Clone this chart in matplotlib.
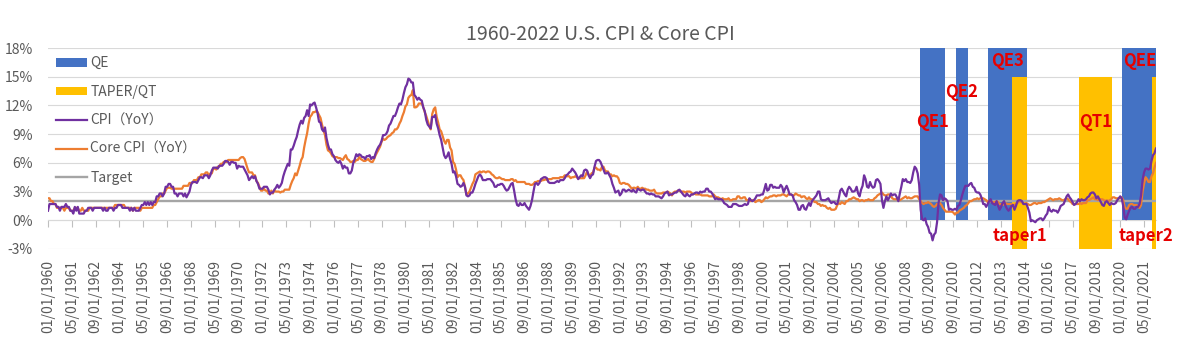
"""1960-2022 U.S. CPI & Core CPI with QE / taper periods, Excel-like look."""

import matplotlib

matplotlib.use("Agg")
import matplotlib.pyplot as plt
import numpy as np
import pandas as pd
from matplotlib.lines import Line2D
from matplotlib.patches import Patch

plt.rcParams["font.family"] = ["Noto Sans CJK SC", "DejaVu Sans"]

START_MONTH = "1960-01-01"

# CPI-U, year over year %, monthly from Jan 1960 to Jan 2022
CPI_YOY = [
    1.0, 1.7, 1.7, 1.7, 1.7, 1.7, 1.4, 1.4, 1.0, 1.4, 1.4, 1.4,  # 1960
    1.7, 1.4, 1.4, 1.0, 1.0, 0.7, 1.4, 1.0, 1.4, 0.7, 0.7, 0.7,  # 1961
    0.7, 1.0, 1.0, 1.3, 1.3, 1.3, 1.0, 1.3, 1.3, 1.3, 1.3, 1.3,  # 1962
    1.3, 1.0, 1.3, 1.0, 1.0, 1.3, 1.3, 1.3, 1.0, 1.3, 1.3, 1.6,  # 1963
    1.6, 1.6, 1.3, 1.3, 1.3, 1.3, 1.3, 1.0, 1.3, 1.0, 1.3, 1.0,  # 1964
    1.0, 1.0, 1.3, 1.6, 1.6, 1.9, 1.6, 1.9, 1.6, 1.9, 1.6, 1.9,  # 1965
    1.9, 2.5, 2.5, 2.8, 2.8, 2.5, 2.8, 3.5, 3.5, 3.8, 3.8, 3.5,  # 1966
    3.5, 2.8, 2.8, 2.5, 2.8, 2.8, 2.8, 2.5, 2.8, 2.4, 2.7, 3.0,  # 1967
    3.7, 4.0, 4.0, 4.0, 3.9, 4.2, 4.5, 4.5, 4.4, 4.7, 4.7, 4.7,  # 1968
    4.4, 4.7, 5.2, 5.5, 5.5, 5.5, 5.4, 5.7, 5.7, 5.7, 5.9, 6.2,  # 1969
    6.2, 6.1, 5.8, 6.1, 6.1, 6.0, 6.0, 5.4, 5.7, 5.6, 5.6, 5.6,  # 1970
    5.3, 5.0, 4.7, 4.2, 4.4, 4.6, 4.4, 4.6, 4.1, 3.8, 3.3, 3.3,  # 1971
    3.3, 3.5, 3.5, 3.5, 3.2, 2.7, 2.9, 2.9, 3.2, 3.4, 3.7, 3.4,  # 1972
    3.6, 3.9, 4.6, 5.1, 5.5, 5.9, 5.7, 7.4, 7.4, 7.8, 8.3, 8.7,  # 1973
    9.4, 10.0, 10.4, 10.1, 10.7, 10.9, 11.5, 10.9, 12.1, 12.0, 12.2, 12.3,  # 1974
    11.8, 11.2, 10.3, 10.2, 9.5, 9.3, 9.7, 8.6, 7.9, 7.4, 7.4, 6.9,  # 1975
    6.7, 6.3, 6.1, 6.0, 6.2, 5.9, 5.4, 5.7, 5.5, 5.5, 4.9, 4.9,  # 1976
    5.2, 6.0, 6.4, 6.9, 6.7, 6.9, 6.8, 6.6, 6.6, 6.4, 6.7, 6.7,  # 1977
    6.8, 6.4, 6.6, 6.5, 7.0, 7.4, 7.7, 7.9, 8.3, 8.9, 8.9, 9.0,  # 1978
    9.3, 9.9, 10.1, 10.5, 10.9, 10.9, 11.3, 11.8, 12.2, 12.1, 12.6, 13.3,  # 1979
    13.9, 14.2, 14.8, 14.7, 14.4, 14.4, 13.1, 12.9, 12.6, 12.8, 12.6, 12.5,  # 1980
    11.8, 11.4, 10.5, 10.0, 9.8, 9.6, 10.8, 10.8, 11.0, 10.1, 9.6, 8.9,  # 1981
    8.4, 7.6, 6.8, 6.5, 6.7, 7.1, 6.4, 5.9, 5.0, 5.1, 4.6, 3.8,  # 1982
    3.7, 3.5, 3.6, 3.9, 3.5, 2.6, 2.5, 2.6, 2.9, 2.9, 3.3, 3.8,  # 1983
    4.2, 4.6, 4.8, 4.6, 4.2, 4.2, 4.2, 4.3, 4.3, 4.3, 4.1, 3.9,  # 1984
    3.5, 3.5, 3.7, 3.7, 3.8, 3.8, 3.6, 3.3, 3.1, 3.2, 3.5, 3.8,  # 1985
    3.9, 3.1, 2.2, 1.6, 1.5, 1.8, 1.6, 1.6, 1.8, 1.5, 1.3, 1.1,  # 1986
    1.5, 2.1, 3.0, 3.8, 3.9, 3.7, 3.9, 4.3, 4.4, 4.5, 4.5, 4.4,  # 1987
    4.0, 3.9, 3.9, 3.9, 3.9, 4.0, 4.1, 4.0, 4.2, 4.2, 4.2, 4.4,  # 1988
    4.7, 4.8, 5.0, 5.1, 5.4, 5.2, 5.0, 4.7, 4.3, 4.5, 4.7, 4.6,  # 1989
    5.2, 5.3, 5.2, 4.7, 4.4, 4.7, 4.8, 5.6, 6.2, 6.3, 6.3, 6.1,  # 1990
    5.7, 5.3, 4.9, 4.9, 5.0, 4.7, 4.4, 3.8, 3.4, 2.9, 3.0, 3.1,  # 1991
    2.6, 2.8, 3.2, 3.2, 3.0, 3.1, 3.2, 3.1, 3.0, 3.2, 3.0, 2.9,  # 1992
    3.3, 3.2, 3.1, 3.2, 3.2, 3.0, 2.8, 2.8, 2.7, 2.8, 2.7, 2.7,  # 1993
    2.5, 2.5, 2.5, 2.4, 2.3, 2.5, 2.8, 2.9, 3.0, 2.6, 2.7, 2.7,  # 1994
    2.8, 2.9, 2.9, 3.1, 3.2, 3.0, 2.8, 2.6, 2.5, 2.8, 2.6, 2.5,  # 1995
    2.7, 2.7, 2.8, 2.9, 2.9, 2.8, 3.0, 2.9, 3.0, 3.0, 3.3, 3.3,  # 1996
    3.0, 3.0, 2.8, 2.5, 2.2, 2.3, 2.2, 2.2, 2.2, 2.1, 1.8, 1.7,  # 1997
    1.6, 1.4, 1.4, 1.4, 1.7, 1.7, 1.7, 1.6, 1.5, 1.5, 1.5, 1.6,  # 1998
    1.7, 1.6, 1.7, 2.3, 2.1, 2.0, 2.1, 2.3, 2.6, 2.6, 2.6, 2.7,  # 1999
    2.7, 3.2, 3.8, 3.1, 3.2, 3.7, 3.7, 3.4, 3.5, 3.4, 3.4, 3.4,  # 2000
    3.7, 3.5, 2.9, 3.3, 3.6, 3.2, 2.7, 2.7, 2.6, 2.1, 1.9, 1.6,  # 2001
    1.1, 1.1, 1.5, 1.6, 1.2, 1.1, 1.5, 1.8, 1.5, 2.0, 2.2, 2.4,  # 2002
    2.6, 3.0, 3.0, 2.2, 2.1, 2.1, 2.1, 2.2, 2.3, 2.0, 1.8, 1.9,  # 2003
    1.9, 1.7, 1.7, 2.3, 3.1, 3.3, 3.0, 2.7, 2.5, 3.2, 3.5, 3.3,  # 2004
    3.0, 3.0, 3.1, 3.5, 2.8, 2.5, 3.2, 3.6, 4.7, 4.3, 3.5, 3.4,  # 2005
    4.0, 3.6, 3.4, 3.5, 4.2, 4.3, 4.1, 3.8, 2.1, 1.3, 2.0, 2.5,  # 2006
    2.1, 2.4, 2.8, 2.6, 2.7, 2.7, 2.4, 2.0, 2.8, 3.5, 4.3, 4.1,  # 2007
    4.3, 4.0, 4.0, 3.9, 4.2, 5.0, 5.6, 5.4, 4.9, 3.7, 1.1, 0.1,  # 2008
    0.0, 0.2, -0.4, -0.7, -1.3, -1.4, -2.1, -1.5, -1.3, -0.2, 1.8, 2.7,  # 2009
    2.6, 2.1, 2.3, 2.2, 2.0, 1.1, 1.2, 1.1, 1.1, 1.2, 1.1, 1.5,  # 2010
    1.6, 2.1, 2.7, 3.2, 3.6, 3.6, 3.6, 3.8, 3.9, 3.5, 3.4, 3.0,  # 2011
    2.9, 2.9, 2.7, 2.3, 1.7, 1.7, 1.4, 1.7, 2.0, 2.2, 1.8, 1.7,  # 2012
    1.6, 2.0, 1.5, 1.1, 1.4, 1.8, 2.0, 1.5, 1.2, 1.0, 1.2, 1.5,  # 2013
    1.6, 1.1, 1.5, 2.0, 2.1, 2.1, 2.0, 1.7, 1.7, 1.7, 1.3, 0.8,  # 2014
    -0.1, 0.0, -0.1, -0.2, 0.0, 0.1, 0.2, 0.2, 0.0, 0.2, 0.5, 0.7,  # 2015
    1.4, 1.0, 0.9, 1.1, 1.0, 1.0, 0.8, 1.1, 1.5, 1.6, 1.7, 2.1,  # 2016
    2.5, 2.7, 2.4, 2.2, 1.9, 1.6, 1.7, 1.9, 2.2, 2.0, 2.2, 2.1,  # 2017
    2.1, 2.2, 2.4, 2.5, 2.8, 2.9, 2.9, 2.7, 2.3, 2.5, 2.2, 1.9,  # 2018
    1.6, 1.5, 1.9, 2.0, 1.8, 1.6, 1.8, 1.7, 1.7, 1.8, 2.1, 2.3,  # 2019
    2.5, 2.3, 1.5, 0.3, 0.1, 0.6, 1.0, 1.3, 1.4, 1.2, 1.2, 1.4,  # 2020
    1.4, 1.7, 2.6, 4.2, 5.0, 5.4, 5.4, 5.3, 5.4, 6.2, 6.8, 7.0,  # 2021
    7.5,  # 2022
]

# Core CPI (ex food & energy), year over year %, same months
CORE_CPI_YOY = [
    2.3, 2.3, 2.0, 2.0, 1.7, 1.7, 1.3, 1.3, 1.3, 1.3, 1.3, 1.0,  # 1960
    1.3, 1.3, 1.3, 1.0, 1.0, 1.0, 1.3, 1.3, 1.3, 1.0, 1.0, 1.3,  # 1961
    1.0, 1.0, 1.0, 1.0, 1.3, 1.3, 1.3, 1.3, 1.3, 1.3, 1.3, 1.3,  # 1962
    1.3, 1.3, 1.3, 1.3, 1.3, 1.3, 1.3, 1.3, 1.3, 1.6, 1.6, 1.6,  # 1963
    1.6, 1.6, 1.6, 1.6, 1.3, 1.3, 1.3, 1.3, 1.3, 1.0, 1.3, 1.3,  # 1964
    1.3, 1.3, 1.0, 1.3, 1.3, 1.3, 1.3, 1.3, 1.3, 1.3, 1.3, 1.6,  # 1965
    1.6, 1.9, 2.2, 2.5, 2.5, 2.8, 2.8, 3.1, 3.4, 3.4, 3.4, 3.3,  # 1966
    3.3, 3.3, 3.3, 3.3, 3.3, 3.3, 3.3, 3.6, 3.6, 3.6, 3.6, 3.9,  # 1967
    3.9, 3.9, 4.2, 4.2, 4.2, 4.5, 4.5, 4.8, 4.8, 4.8, 5.0, 5.0,  # 1968
    4.6, 4.9, 4.9, 5.4, 5.4, 5.3, 5.6, 5.6, 5.9, 5.9, 6.1, 6.1,  # 1969
    6.1, 6.3, 6.3, 6.3, 6.3, 6.3, 6.3, 6.3, 6.3, 6.5, 6.6, 6.6,  # 1970
    6.4, 5.9, 5.4, 5.0, 5.0, 5.0, 4.7, 4.7, 4.1, 3.9, 3.5, 3.1,  # 1971
    3.1, 3.3, 3.1, 3.1, 2.8, 2.8, 3.1, 2.8, 3.1, 3.0, 3.0, 3.0,  # 1972
    2.9, 3.0, 3.0, 3.2, 3.2, 3.2, 3.2, 3.7, 4.1, 4.4, 4.9, 4.7,  # 1973
    5.2, 5.7, 6.3, 6.6, 7.6, 8.4, 9.1, 10.1, 10.8, 11.0, 11.3, 11.3,  # 1974
    11.4, 11.3, 11.0, 10.7, 10.0, 9.4, 8.9, 7.9, 7.3, 7.2, 7.0, 6.7,  # 1975
    6.6, 6.6, 6.6, 6.5, 6.5, 6.4, 6.3, 6.6, 6.8, 6.4, 6.3, 6.1,  # 1976
    6.1, 6.2, 6.1, 6.3, 6.3, 6.6, 6.4, 6.3, 6.2, 6.2, 6.3, 6.4,  # 1977
    6.2, 6.1, 6.1, 6.4, 6.8, 7.1, 7.4, 7.7, 8.2, 8.5, 8.4, 8.5,  # 1978
    8.7, 8.8, 8.9, 9.1, 9.2, 9.5, 9.5, 9.7, 10.1, 10.4, 10.9, 11.3,  # 1979
    11.9, 12.1, 12.8, 13.0, 13.1, 13.6, 11.8, 11.8, 11.9, 12.2, 12.2, 12.2,  # 1980
    11.8, 11.3, 10.9, 10.4, 9.9, 9.5, 11.1, 11.6, 11.8, 10.8, 10.2, 9.5,  # 1981
    9.3, 8.8, 8.3, 8.0, 8.4, 8.4, 7.6, 7.3, 6.1, 5.9, 5.3, 4.5,  # 1982
    4.7, 4.7, 4.4, 4.2, 3.5, 2.7, 2.8, 3.0, 3.4, 3.8, 4.1, 4.8,  # 1983
    4.9, 5.0, 5.1, 5.0, 5.1, 5.1, 5.0, 5.1, 5.1, 5.0, 4.8, 4.7,  # 1984
    4.5, 4.4, 4.4, 4.5, 4.4, 4.3, 4.3, 4.2, 4.2, 4.2, 4.2, 4.3,  # 1985
    4.3, 4.1, 4.2, 4.0, 4.0, 4.0, 4.0, 4.0, 4.0, 3.8, 3.8, 3.8,  # 1986
    3.7, 3.7, 3.8, 4.0, 4.0, 4.1, 4.1, 4.1, 4.2, 4.2, 4.3, 4.2,  # 1987
    4.3, 4.3, 4.3, 4.4, 4.4, 4.4, 4.4, 4.4, 4.5, 4.5, 4.5, 4.7,  # 1988
    4.6, 4.6, 4.6, 4.4, 4.5, 4.5, 4.6, 4.5, 4.4, 4.4, 4.4, 4.4,  # 1989
    4.4, 4.7, 5.1, 4.8, 4.6, 4.9, 5.0, 5.5, 5.5, 5.3, 5.3, 5.2,  # 1990
    5.6, 5.6, 5.2, 5.1, 5.1, 4.8, 4.8, 4.6, 4.7, 4.6, 4.6, 4.4,  # 1991
    3.9, 3.8, 3.9, 3.9, 3.8, 3.8, 3.7, 3.5, 3.3, 3.4, 3.4, 3.3,  # 1992
    3.5, 3.3, 3.3, 3.4, 3.3, 3.3, 3.2, 3.2, 3.1, 3.1, 3.1, 3.2,  # 1993
    2.9, 2.8, 2.8, 2.8, 2.8, 2.9, 2.9, 2.9, 3.0, 2.9, 2.8, 2.6,  # 1994
    2.9, 3.0, 3.0, 3.1, 3.1, 3.0, 3.0, 3.0, 2.9, 3.0, 3.0, 3.0,  # 1995
    2.9, 2.7, 2.8, 2.7, 2.7, 2.7, 2.7, 2.6, 2.6, 2.6, 2.6, 2.6,  # 1996
    2.5, 2.5, 2.5, 2.7, 2.5, 2.4, 2.4, 2.3, 2.2, 2.3, 2.2, 2.2,  # 1997
    2.2, 2.3, 2.1, 2.1, 2.2, 2.2, 2.2, 2.5, 2.5, 2.3, 2.3, 2.4,  # 1998
    2.4, 2.1, 2.1, 2.2, 2.0, 2.1, 2.1, 1.9, 2.0, 2.1, 2.1, 1.9,  # 1999
    2.0, 2.2, 2.4, 2.3, 2.4, 2.5, 2.5, 2.6, 2.6, 2.5, 2.6, 2.6,  # 2000
    2.6, 2.7, 2.7, 2.6, 2.5, 2.7, 2.7, 2.7, 2.6, 2.6, 2.8, 2.7,  # 2001
    2.6, 2.6, 2.4, 2.5, 2.5, 2.3, 2.2, 2.4, 2.2, 2.2, 2.0, 1.9,  # 2002
    1.9, 1.7, 1.7, 1.5, 1.6, 1.5, 1.5, 1.3, 1.2, 1.3, 1.1, 1.1,  # 2003
    1.1, 1.2, 1.6, 1.8, 1.7, 1.9, 1.8, 1.7, 2.0, 2.0, 2.2, 2.2,  # 2004
    2.3, 2.4, 2.3, 2.2, 2.2, 2.0, 2.1, 2.1, 2.0, 2.1, 2.1, 2.2,  # 2005
    2.1, 2.1, 2.1, 2.3, 2.4, 2.6, 2.7, 2.8, 2.9, 2.7, 2.6, 2.6,  # 2006
    2.7, 2.7, 2.5, 2.3, 2.2, 2.2, 2.2, 2.1, 2.1, 2.2, 2.3, 2.4,  # 2007
    2.5, 2.3, 2.4, 2.3, 2.3, 2.4, 2.5, 2.5, 2.5, 2.2, 2.0, 1.8,  # 2008
    1.7, 1.8, 1.8, 1.9, 1.8, 1.7, 1.5, 1.4, 1.5, 1.7, 1.7, 1.8,  # 2009
    1.6, 1.3, 1.1, 0.9, 0.9, 0.9, 0.9, 0.9, 0.8, 0.6, 0.8, 0.8,  # 2010
    1.0, 1.1, 1.2, 1.3, 1.5, 1.6, 1.8, 2.0, 2.0, 2.1, 2.2, 2.2,  # 2011
    2.3, 2.2, 2.3, 2.3, 2.3, 2.2, 2.1, 1.9, 2.0, 2.0, 1.9, 1.9,  # 2012
    1.9, 2.0, 1.9, 1.7, 1.7, 1.6, 1.7, 1.8, 1.7, 1.7, 1.7, 1.7,  # 2013
    1.6, 1.6, 1.7, 1.8, 2.0, 1.9, 1.9, 1.7, 1.7, 1.8, 1.7, 1.6,  # 2014
    1.6, 1.7, 1.8, 1.8, 1.7, 1.8, 1.8, 1.8, 1.9, 1.9, 2.0, 2.1,  # 2015
    2.2, 2.3, 2.2, 2.1, 2.2, 2.2, 2.2, 2.3, 2.2, 2.1, 2.1, 2.2,  # 2016
    2.3, 2.2, 2.0, 1.9, 1.7, 1.7, 1.7, 1.7, 1.7, 1.8, 1.7, 1.8,  # 2017
    1.8, 1.8, 2.1, 2.1, 2.2, 2.3, 2.4, 2.2, 2.2, 2.1, 2.2, 2.2,  # 2018
    2.2, 2.1, 2.0, 2.1, 2.0, 2.1, 2.2, 2.4, 2.4, 2.3, 2.3, 2.3,  # 2019
    2.3, 2.4, 2.1, 1.4, 1.2, 1.2, 1.6, 1.7, 1.7, 1.6, 1.6, 1.6,  # 2020
    1.4, 1.3, 1.6, 3.0, 3.8, 4.5, 4.3, 4.0, 4.0, 4.6, 4.9, 5.5,  # 2021
    6.0,  # 2022
]

TARGET = 2.0

# column series: QE columns run 0..18 %, taper / QT columns -3..15 %
QE_TOP = 18.0
TAPER_TOP = 15.0
TAPER_BOTTOM = -3.0
QE_PERIODS = [("2008-11", "2010-03"), ("2010-11", "2011-06"),
              ("2012-09", "2014-10"), ("2020-03", "2022-01")]
QE_NAMES = ["QE1", "QE2", "QE3", "QEE"]
TAPER_PERIODS = [("2014-01", "2014-10"), ("2017-10", "2019-07"), ("2021-11", "2022-01")]
TAPER_NAMES = ["taper1", "QT1", "taper2"]

Y_TICKS = [-3, 0, 3, 6, 9, 12, 15, 18]
LABEL_EVERY = 16  # Excel shows every 16th category label

TEXT = "#595959"
GRID = "#D9D9D9"
QE_BLUE = "#4472C4"
TAPER_YELLOW = "#FFC000"
CPI_PURPLE = "#7030A0"
CORE_ORANGE = "#ED7D31"
TARGET_GREY = "#A5A5A5"
NOTE_RED = "#E60000"


def period_mask(months, periods):
    mask = np.zeros(len(months), dtype=bool)
    for start, end in periods:
        mask |= (months >= pd.Timestamp(start)) & (months <= pd.Timestamp(end))
    return mask


def period_mid(months, period):
    idx = np.flatnonzero(period_mask(months, [period]))
    return (idx[0] + idx[-1]) / 2


months = pd.date_range(START_MONTH, periods=len(CPI_YOY), freq="MS")
x = np.arange(len(months))
qe_on = period_mask(months, QE_PERIODS)
taper_on = period_mask(months, TAPER_PERIODS)

fig = plt.figure(figsize=(12, 3.51), dpi=100)
ax = fig.add_axes([0.04, 0.2906, 0.9233, 0.5726])

ax.bar(x[qe_on], QE_TOP, width=1.0, bottom=0, color=QE_BLUE, linewidth=0, zorder=2)
ax.bar(x[taper_on], TAPER_TOP - TAPER_BOTTOM, width=1.0, bottom=TAPER_BOTTOM,
       color=TAPER_YELLOW, linewidth=0, zorder=2)
ax.plot(x, np.full(len(x), TARGET), color=TARGET_GREY, lw=1.7, zorder=3)
ax.plot(x, CORE_CPI_YOY, color=CORE_ORANGE, lw=1.6, zorder=4)
ax.plot(x, CPI_YOY, color=CPI_PURPLE, lw=1.6, zorder=5)

# red period notes
qe_note_y = [10.3, 13.4, 16.6, 16.6]
taper_note_y = [-1.6, 10.3, -1.6]
taper_note_dx = [0, 0, -6]
note_style = dict(color=NOTE_RED, fontsize=12, fontweight="bold", ha="center",
                  va="center", zorder=6)
for name, period, y in zip(QE_NAMES, QE_PERIODS, qe_note_y):
    ax.text(period_mid(months, period), y, name, **note_style)
for name, period, y, dx in zip(TAPER_NAMES, TAPER_PERIODS, taper_note_y, taper_note_dx):
    ax.text(period_mid(months, period) + dx, y, name, **note_style)

ax.set_xlim(0, len(x) - 1)
ax.set_ylim(Y_TICKS[0], Y_TICKS[-1])
ax.set_yticks(Y_TICKS)
ax.set_yticklabels([f"{v}%" for v in Y_TICKS])
ax.grid(True, axis="y", color=GRID, lw=0.8, zorder=0)
ax.set_axisbelow(True)
for spine in ax.spines.values():
    spine.set_visible(False)

tick_pos = x[::LABEL_EVERY]
ax.set_xticks(tick_pos)
ax.set_xticklabels([months[i].strftime("%m/%d/%Y") for i in tick_pos], rotation=90)
ax.tick_params(axis="x", length=0, pad=8, labelsize=10, labelcolor=TEXT)
ax.tick_params(axis="y", length=0, pad=11, labelsize=10, labelcolor=TEXT)

# category axis crosses at 0 %
zero_axis = ax.secondary_xaxis((0 - Y_TICKS[0]) / (Y_TICKS[-1] - Y_TICKS[0]))
zero_axis.set_xticks(tick_pos)
zero_axis.tick_params(axis="x", direction="out", length=5, color="#BFBFBF",
                      labelbottom=False, labeltop=False, bottom=True, top=False)
zero_axis.spines["bottom"].set_color(GRID)
zero_axis.spines["bottom"].set_linewidth(0.8)

handles = [
    Patch(facecolor=QE_BLUE, label="QE"),
    Patch(facecolor=TAPER_YELLOW, label="TAPER/QT"),
    Line2D([], [], color=CPI_PURPLE, lw=1.6, label="CPI（YoY）"),
    Line2D([], [], color=CORE_ORANGE, lw=1.6, label="Core CPI（YoY）"),
    Line2D([], [], color=TARGET_GREY, lw=1.7, label="Target"),
]
leg = ax.legend(handles=handles, loc="upper left", bbox_to_anchor=(0.0, 1.0),
                frameon=False, fontsize=10, labelcolor=TEXT, handlelength=2.2,
                handleheight=0.55, handletextpad=0.25, labelspacing=1.05,
                borderaxespad=0.2)
leg.set_zorder(7)

fig.text(0.5, 1 - 35 / 351, "1960-2022 U.S. CPI & Core CPI", ha="center", va="center",
         fontsize=14, color=TEXT)

fig.savefig("out.png", dpi=100)
